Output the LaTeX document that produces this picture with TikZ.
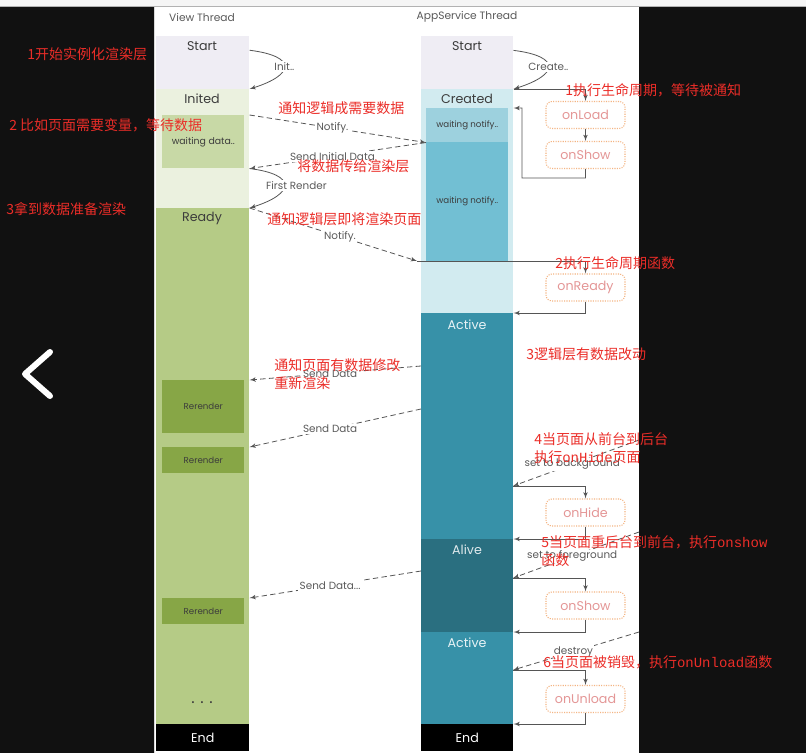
\documentclass[tikz,border=0pt]{standalone}
\usepackage{fontspec}
\setmainfont{Poppins}
\newfontfamily\cjk{Noto Sans CJK SC}
\newfontfamily\notemono{Liberation Mono}
\usetikzlibrary{arrows}

\definecolor{startbg}{RGB}{239,237,244}
\definecolor{initbg}{RGB}{235,241,223}
\definecolor{waitgreen}{RGB}{200,217,166}
\definecolor{readybg}{RGB}{181,203,134}
\definecolor{rerenderbg}{RGB}{135,166,70}
\definecolor{createdbg}{RGB}{210,235,240}
\definecolor{waitblue}{RGB}{157,209,222}
\definecolor{waitdeep}{RGB}{114,191,211}
\definecolor{activebg}{RGB}{55,145,168}
\definecolor{alivebg}{RGB}{42,111,128}
\definecolor{textgray}{RGB}{60,60,60}
\definecolor{linegray}{RGB}{85,85,85}
\definecolor{labelgray}{RGB}{90,90,90}
\definecolor{hookline}{RGB}{244,180,130}
\definecolor{hooktext}{RGB}{228,150,150}
\definecolor{notered}{RGB}{235,45,40}
\definecolor{screen}{RGB}{17,17,17}

\begin{document}
\begin{tikzpicture}[x=0.75pt,y=-0.75pt]
                \tikzset{block/.style = {rectangle, inner sep=0pt, anchor=north west, text=textgray, font=\fontsize{6.5}{8}\selectfont}}
                \tikzset{stname/.style = {inner sep=0pt, text=textgray, font=\fontsize{9.5}{11}\selectfont}}
                \tikzset{hookbox/.style = {rectangle, rounded corners=4.5pt, draw=hookline, densely dotted, line width=0.8pt, minimum width=59.25pt, minimum height=20.25pt, text=hooktext, font=\fontsize{9.5}{11}\selectfont}}
                \tikzset{edge/.style = {->, > = latex', draw=linegray, line width=0.6pt}}
                \tikzset{message/.style = {edge, dash pattern=on 4pt off 2.5pt}}
                \tikzset{msg/.style = {fill=white, inner sep=1pt, text=labelgray, font=\fontsize{7.8}{9}\selectfont}}
                \tikzset{note/.style = {anchor=west, inner sep=0pt, align=left, text=notered, font=\cjk\fontsize{10.5}{13.5}\selectfont}}
                \useasboundingbox (0,0) rectangle (806,753);
                % screen
                \fill[gray!8] (0,0) rectangle (806,6);
                \fill[screen] (0,6) rectangle (806,753);
                \draw[gray!60] (0,6) -- (806,6);
                \fill[white] (154,7) rectangle (639,753);
                \draw[gray!30] (154,7) -- (154,753);
                \draw[white, line width=4.5pt, line cap=round, line join=round] (50,352) -- (25,374) -- (50,396);
                % view thread
                \node[inner sep=0pt, text=labelgray, font=\fontsize{8}{9}\selectfont] (vtitle) at (202,17) {View Thread};
                \node[block, fill=startbg, minimum width=69.75pt, minimum height=39.75pt] (vstart) at (156,36) {};
                \node[block, fill=initbg, minimum width=69.75pt, minimum height=89.25pt] (vinit) at (156,89) {};
                \node[block, fill=waitgreen, minimum width=61.5pt, minimum height=39.75pt, font=\fontsize{7}{8}\selectfont] (vwait) at (162,115) {waiting data..};
                \node[block, fill=readybg, minimum width=69.75pt, minimum height=387pt] (vready) at (156,208) {};
                \node[block, fill=rerenderbg, minimum width=61.5pt, minimum height=39.75pt] (rr1) at (162,380) {Rerender};
                \node[block, fill=rerenderbg, minimum width=61.5pt, minimum height=19.5pt] (rr2) at (162,447) {Rerender};
                \node[block, fill=rerenderbg, minimum width=61.5pt, minimum height=19.5pt] (rr3) at (162,598) {Rerender};
                \node[block, fill=black, text=white, font=\fontsize{9.5}{11}\selectfont, minimum width=69.75pt, minimum height=20.25pt] (vend) at (156,724) {End};
                \node[stname] (tvstart) at (202,46) {Start};
                \node[stname] (tvinit) at (202,99) {Inited};
                \node[stname] (tvready) at (202,218) {Ready};
                \node[stname, font=\fontsize{12}{12}\selectfont] (tdots) at (202,703) {. . .};
                % appservice thread
                \node[inner sep=0pt, text=labelgray, font=\fontsize{8}{9}\selectfont] (atitle) at (467,17) {AppService Thread};
                \node[block, fill=startbg, minimum width=69pt, minimum height=39.75pt] (astart) at (421,36) {};
                \node[block, fill=createdbg, minimum width=69pt, minimum height=168pt] (created) at (421,89) {};
                \node[block, fill=waitblue, minimum width=61.5pt, minimum height=25.5pt] (wait1) at (426,108) {waiting notify..};
                \node[block, fill=waitdeep, minimum width=61.5pt, minimum height=89.25pt] (wait2) at (426,142) {waiting notify..};
                \node[block, fill=activebg, minimum width=69pt, minimum height=169.5pt] (active1) at (421,313) {};
                \node[block, fill=alivebg, minimum width=69pt, minimum height=69.75pt] (alive) at (421,539) {};
                \node[block, fill=activebg, minimum width=69pt, minimum height=69pt] (active2) at (421,632) {};
                \node[block, fill=black, text=white, font=\fontsize{9.5}{11}\selectfont, minimum width=69pt, minimum height=20.25pt] (aend) at (421,724) {End};
                \node[stname] (tastart) at (467,46) {Start};
                \node[stname] (tcreated) at (467,99) {Created};
                \node[stname, text=white!88!activebg] (tactive1) at (467,325) {Active};
                \node[stname, text=white!85!alivebg] (talive) at (467,550) {Alive};
                \node[stname, text=white!88!activebg] (tactive2) at (467,643) {Active};
                % lifecycle hooks
                \node[hookbox] (load) at (585.5,115) {onLoad};
                \node[hookbox] (show) at (585.5,155) {onShow};
                \node[hookbox] (ready) at (585.5,287.5) {onReady};
                \node[hookbox] (hide) at (585.5,512.5) {onHide};
                \node[hookbox] (showb) at (585.5,605.5) {onShow};
                \node[hookbox] (unload) at (585.5,699) {onUnload};
                % free ends
                \coordinate (rdy) at (417,261);
                \coordinate (sd1) at (421,366);
                \coordinate (sd2) at (421,409);
                \coordinate (sd3) at (421,571);
                \coordinate (bgin) at (639,440);
                \coordinate (bgend) at (513,486);
                \coordinate (fgin) at (639,532);
                \coordinate (fgend) at (513,578);
                \coordinate (dsin) at (639,632);
                \coordinate (dsend) at (513,670);
                %edges
                \draw[edge] (vstart.15) .. controls +(48,6) and +(45,-14) .. node[msg] {Init..} (vinit.north east);
                \draw[edge] (astart.15) .. controls +(48,6) and +(45,-14) .. node[msg] {Create..} (created.north east);
                \draw[message] (vwait.north -| vinit.east) -- node[msg, pos=0.47] {Notify.} (wait1.south west);
                \draw[message] (wait1.south west) -- node[msg, pos=0.53] {Send Initial Data} (vwait.south -| vinit.east);
                \draw[edge] (vwait.south -| vinit.east) .. controls +(48,6) and +(45,-14) .. node[msg, xshift=9pt] {First Render} (vready.north east);
                \draw[message] (vready.north east) -- node[msg, pos=0.54] {Notify.} (rdy);
                \draw[message] (sd1) -- node[msg, pos=0.53] {Send Data} (rr1.north -| vready.east);
                \draw[message] (sd2) -- node[msg, pos=0.53] {Send Data} (rr2.north -| vready.east);
                \draw[message] (sd3) -- node[msg, pos=0.53] {Send Data...} (rr3.north -| vready.east);

                \draw[edge] (created.north east) -| (load.north);
                \draw[edge] (load) -- (show);
                \draw[edge] (show.south) -- ++(0,9) -| ++(-63.5,-70) -- (wait1.north -| created.east);
                \draw[edge] (rdy) -| (ready.north);
                \draw[edge] (ready.south) |- (active1.north east);
                \draw[message] (bgin) -- node[msg, pos=0.53] {set to background} (bgend);
                \draw[edge] (bgend) -| (hide.north);
                \draw[edge] (hide.south) |- (alive.north east);
                \draw[message] (fgin) -- node[msg, pos=0.53] {set to foreground} (fgend);
                \draw[edge] (fgend) -| (showb.north);
                \draw[edge] (showb.south) |- (active2.north east);
                \draw[message] (dsin) -- node[msg, pos=0.52] {destroy} (dsend);
                \draw[edge] (dsend) -| (unload.north);
                \draw[edge] (unload.south) |- (aend.north east);
                % notes
                \node[note] (n1) at (27,54) {1开始实例化渲染层};
                \node[note] (n2) at (9,125) {2 比如页面需要变量，等待数据};
                \node[note] (n3) at (6,209) {3拿到数据准备渲染};
                \node[note] (n4) at (278,108) {通知逻辑成需要数据};
                \node[note] (n5) at (297,166) {将数据传给渲染层};
                \node[note] (n6) at (267,219) {通知逻辑层即将渲染页面};
                \node[note] (n7) at (565,90) {1执行生命周期，等待被通知};
                \node[note] (n8) at (555,263) {2执行生命周期函数};
                \node[note] (n9) at (526,354) {3逻辑层有数据改动};
                \node[note] (n10) at (274,374) {通知页面有数据修改\\重新渲染};
                \node[note] (n11) at (534,448) {4当页面从前台到后台\\执行{\notemono onHide}页面};
                \node[note] (n12) at (541,551) {5当页面重后台到前台，执行{\notemono onshow}\\函数};
                \node[note] (n13) at (543,662) {6当页面被销毁，执行{\notemono onUnload}函数};
\end{tikzpicture}
\end{document}
